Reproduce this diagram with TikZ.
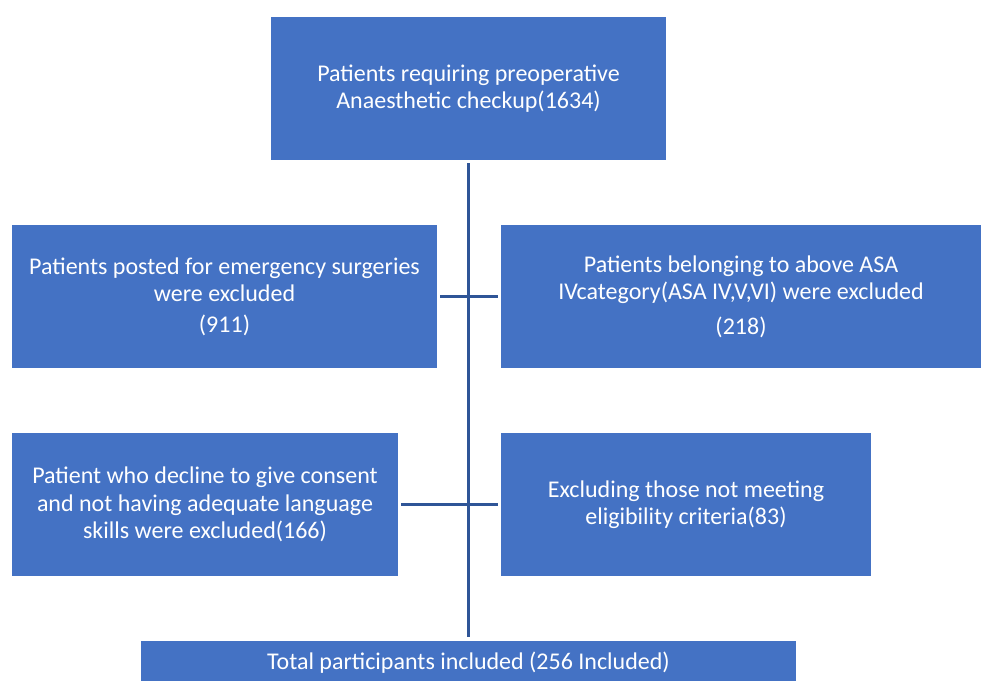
\documentclass[tikz,border=0pt]{standalone}
\usepackage{fontspec}
\setmainfont{Carlito}
\usepackage{xcolor}
\definecolor{boxblue}{HTML}{4472C4}
\definecolor{lineblue}{HTML}{2F5597}

\begin{document}
\begin{tikzpicture}
  [x=1pt,y=-1pt,every node/.style={rectangle,fill=boxblue,text=white,align=center,
   inner sep=0pt,font=\fontsize{24}{27.5}\selectfont}]
  \useasboundingbox (0,0) rectangle (981,680);
  \node[minimum width=395pt,minimum height=143pt] (1) at (468.5,88.5)
    {Patients requiring preoperative\\Anaesthetic checkup(1634)};
  \node[minimum width=425pt,minimum height=143pt] (2) at (224.5,296.5)
    {Patients posted for emergency surgeries\\were excluded\\[3pt](911)};
  \node[minimum width=480pt,minimum height=143pt] (3) at (741,296.5)
    {Patients belonging to above ASA\\IVcategory(ASA IV,V,VI) were excluded\\[7pt](218)};
  \node[minimum width=386pt,minimum height=143pt] (4) at (205,504.5)
    {Patient who decline to give consent\\and not having adequate language\\skills were excluded(166)};
  \node[minimum width=370pt,minimum height=143pt] (5) at (686,504.5)
    {Excluding those not meeting\\eligibility criteria(83)};
  \node[minimum width=655pt,minimum height=44pt] (6) at (468.5,663)
    {Total participants included (256 Included)};

  \draw[lineblue,line width=2.6pt,shorten <=3pt,shorten >=4pt] (1.south) -- (6.north);
  \foreach \from/\to in {2/3,4/5}
    \draw[lineblue,line width=2.6pt,shorten <=3pt,shorten >=3pt] (\from) -- (\to);

\end{tikzpicture}
\end{document}
